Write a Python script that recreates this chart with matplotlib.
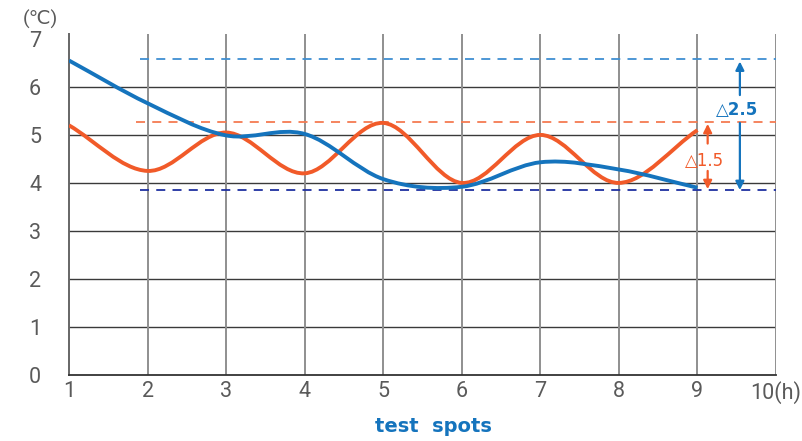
import matplotlib
matplotlib.use("Agg")
import matplotlib.pyplot as plt
from matplotlib.path import Path
from matplotlib.patches import PathPatch
import numpy as np

x_spots = [1, 2, 3, 4, 5, 6, 7, 8, 9]
blue_vals = [6.55, 5.66, 4.99, 5.02, 4.08, 3.92, 4.43, 4.28, 3.90]
orange_vals = [5.20, 4.25, 5.05, 4.20, 5.25, 4.00, 5.00, 4.00, 5.10]
x_ticks = [1, 2, 3, 4, 5, 6, 7, 8, 9, 10]
x_ticklabels = ["1", "2", "3", "4", "5", "6", "7", "8", "9", "10(h)"]
y_ticks = [0, 1, 2, 3, 4, 5, 6, 7]
blue_max = 6.58
orange_max = 5.27
overall_min = 3.85
delta_blue_label = "△2.5"
delta_orange_label = "△1.5"

BLUE = "#1574bd"
ORANGE = "#f15a29"
TICKFONT = ["Roboto", "DejaVu Sans"]

fig = plt.figure(figsize=(8.02, 4.41), dpi=100)
ax = fig.add_axes([0.086, 0.1497, 0.8816, 0.773])
ax.set_xlim(1, 10)
ax.set_ylim(0, 7.1)


def smooth_path(xs, ys):
    xs = np.asarray(xs, float)
    ys = np.asarray(ys, float)
    n = len(xs)
    verts = [(xs[0], ys[0])]
    codes = [Path.MOVETO]
    for i in range(n - 1):
        x0, y0 = xs[i], ys[i]
        x1, y1 = xs[i + 1], ys[i + 1]
        if i == 0:
            m0 = (y1 - y0) / (x1 - x0)
        else:
            m0 = (ys[i + 1] - ys[i - 1]) / (xs[i + 1] - xs[i - 1])
        if i + 2 < n:
            m1 = (ys[i + 2] - ys[i]) / (xs[i + 2] - xs[i])
        else:
            m1 = (y1 - y0) / (x1 - x0)
        h = x1 - x0
        verts += [(x0 + h / 3, y0 + m0 * h / 3), (x1 - h / 3, y1 - m1 * h / 3), (x1, y1)]
        codes += [Path.CURVE4] * 3
    return Path(verts, codes)


# grid
for yv in y_ticks[1:7]:
    ax.axhline(yv, color="#3a3a3a", lw=1.0, zorder=1)
for xv in x_ticks[1:]:
    ax.axvline(xv, color="#8f8f8f", lw=1.4, zorder=1)

for s in ["top", "right"]:
    ax.spines[s].set_visible(False)
ax.spines["left"].set_color("#666666")
ax.spines["left"].set_linewidth(1.4)
ax.spines["bottom"].set_color("#333333")
ax.spines["bottom"].set_linewidth(1.3)

# dashed reference lines
ax.hlines(blue_max, 1.9, 10, colors="#3f8fd2", linestyles=(0, (5, 4)), lw=1.3, zorder=2)
ax.hlines(orange_max, 1.85, 10, colors="#f47b52", linestyles=(0, (5, 4)), lw=1.3, zorder=2)
ax.hlines(overall_min, 1.9, 10, colors="#1f30a0", linestyles=(0, (5, 4)), lw=1.3, zorder=2)

# curves
ax.add_patch(PathPatch(smooth_path(x_spots, orange_vals), fill=False, ec=ORANGE, lw=2.8, zorder=3))
ax.add_patch(PathPatch(smooth_path(x_spots, blue_vals), fill=False, ec=BLUE, lw=2.8, zorder=4))

# arrows
ap = dict(arrowstyle="-|>,head_length=0.5,head_width=0.25", lw=1.6, shrinkA=0, shrinkB=0)
ax.annotate("", xy=(9.54, blue_max - 0.05), xytext=(9.54, 5.83),
            arrowprops=dict(ap, color=BLUE), zorder=5)
ax.annotate("", xy=(9.54, overall_min), xytext=(9.54, 5.25),
            arrowprops=dict(ap, color=BLUE), zorder=5)
ax.text(9.5, 5.52, delta_blue_label, color=BLUE, ha="center", va="center",
        fontsize=12, fontweight="bold", zorder=5, family=["DejaVu Sans"])
ax.annotate("", xy=(9.13, orange_max - 0.04), xytext=(9.13, 4.82),
            arrowprops=dict(ap, color=ORANGE), zorder=5)
ax.annotate("", xy=(9.13, overall_min + 0.02), xytext=(9.13, 4.25),
            arrowprops=dict(ap, color=ORANGE), zorder=5)
ax.text(9.09, 4.45, delta_orange_label, color=ORANGE, ha="center", va="center",
        fontsize=12, zorder=5, family=["DejaVu Sans"])

ax.set_xticks(x_ticks)
ax.set_xticklabels(x_ticklabels)
ax.set_yticks(y_ticks)
ax.tick_params(axis="x", length=0, labelsize=15.5, labelcolor="#5a5a5a", pad=4)
ax.tick_params(axis="y", length=0, labelsize=15.5, labelcolor="#5a5a5a", pad=20)
for lab in ax.get_xticklabels() + ax.get_yticklabels():
    lab.set_fontfamily(TICKFONT)
    lab.set_fontweight("normal")

fig.text(0.05, 0.955, "(℃)", fontsize=14, color="#5a5a5a", ha="center", va="center",
         family=TICKFONT)
fig.text(0.54, 0.032, "test  spots", fontsize=14, color=BLUE, fontweight="bold",
         ha="center", va="center")

fig.savefig("out.png", dpi=100)
